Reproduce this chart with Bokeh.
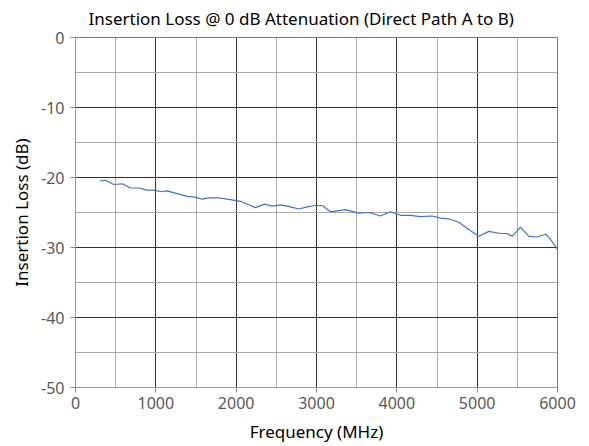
from bokeh.plotting import figure
from bokeh.models import SingleIntervalTicker, Range1d, CustomJSTickFormatter
from bokeh.embed import file_html
from bokeh.resources import INLINE

freq_mhz = [303, 373, 477, 581, 685, 788, 892, 975, 1058, 1141, 1266, 1390, 1494, 1577,
            1660, 1784, 1888, 2054, 2158, 2241, 2353, 2448, 2552, 2676, 2780, 2884, 2988,
            3071, 3174, 3361, 3527, 3652, 3797, 3921, 4046, 4170, 4295, 4440, 4544, 4648,
            4772, 4917, 5021, 5145, 5291, 5374, 5436, 5540, 5643, 5747, 5851, 5892, 5996]
loss_db = [-20.5, -20.4, -21.0, -20.9, -21.5, -21.5, -21.8, -21.8, -22.0, -21.9, -22.3, -22.7,
           -22.8, -23.1, -22.9, -22.9, -23.1, -23.4, -23.9, -24.3, -23.8, -24.1, -23.9, -24.2,
           -24.5, -24.2, -24.0, -24.0, -24.9, -24.6, -25.1, -25.0, -25.5, -24.9, -25.4, -25.4,
           -25.6, -25.5, -25.8, -25.9, -26.4, -27.6, -28.4, -27.7, -28.0, -28.0, -28.4, -27.1,
           -28.4, -28.5, -28.1, -28.5, -30.2]

title_text = "Insertion Loss @ 0 dB Attenuation (Direct Path A to B)"
x_label = "Frequency (MHz)"
y_label = "Insertion Loss (dB)"

FONT = "Noto Sans"

p = figure(width=589, height=446, output_backend="svg", toolbar_location=None,
           x_range=Range1d(0, 6000), y_range=Range1d(-50, 0),
           min_border_left=75, min_border_right=32, min_border_top=37, min_border_bottom=59)

p.title.text = title_text
p.title.text_font = FONT
p.title.text_font_size = "17px"
p.title.text_font_style = "normal"
p.title.text_color = "#000000"
p.title.align = "left"
p.title.vertical_align = "top"
p.title.offset = 13
p.title.standoff = 11

p.line(freq_mhz, loss_db, line_color="#4472C4", line_width=1.2)

p.xaxis.ticker = SingleIntervalTicker(interval=1000, num_minor_ticks=2)
p.yaxis.ticker = SingleIntervalTicker(interval=10, num_minor_ticks=2)
p.yaxis.formatter = CustomJSTickFormatter(code="return tick.toString();")
p.xaxis.formatter = CustomJSTickFormatter(code="return tick.toString();")

for ax in (p.xaxis[0], p.yaxis[0]):
    ax.major_label_text_font = FONT
    ax.major_label_text_font_size = "16px"
    ax.major_label_text_color = "#595959"
    ax.axis_label_text_font = FONT
    ax.axis_label_text_font_size = "17px"
    ax.axis_label_text_font_style = "normal"
    ax.axis_label_text_color = "#000000"
    ax.major_tick_out = 5
    ax.major_tick_in = 0
    ax.minor_tick_out = 0
    ax.minor_tick_in = 0
    ax.major_tick_line_color = "#888888"
    ax.axis_line_color = "#999999"

p.xaxis.axis_label = x_label
p.yaxis.axis_label = y_label
p.xaxis.axis_label_standoff = 8
p.yaxis.axis_label_standoff = 5
p.xaxis.major_label_standoff = 4
p.yaxis.major_label_standoff = 6

p.xgrid.grid_line_color = "#333333"
p.ygrid.grid_line_color = "#333333"
p.xgrid.minor_grid_line_color = "#aaaaaa"
p.ygrid.minor_grid_line_color = "#aaaaaa"
p.xgrid.grid_line_width = 1
p.ygrid.grid_line_width = 1

p.outline_line_color = "#777777"
p.background_fill_color = "white"
p.border_fill_color = "white"

open("out.html", "w").write(file_html(p, INLINE))
